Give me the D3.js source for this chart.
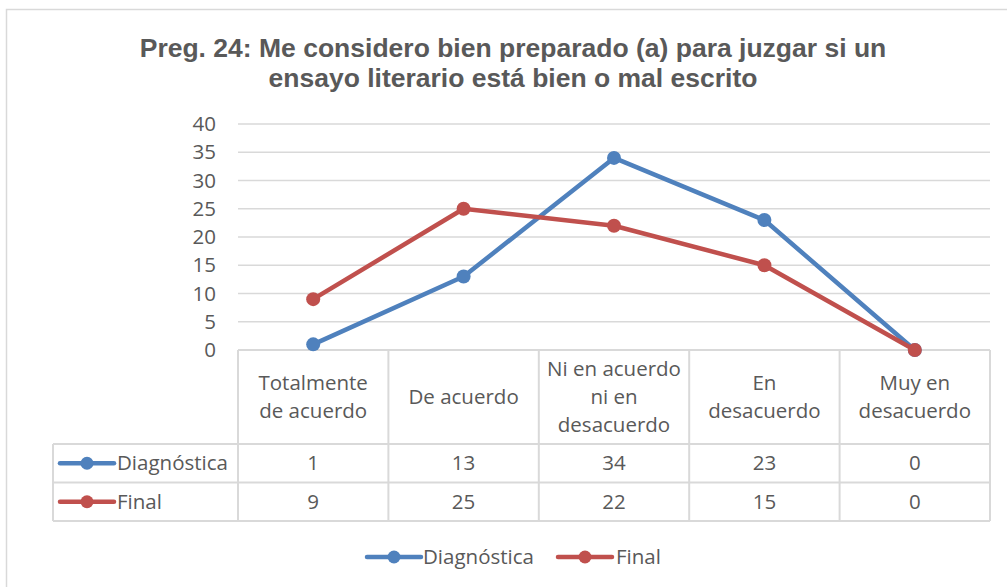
<!DOCTYPE html>
<html>
<head>
<meta charset="utf-8">
<script src="https://cdn.jsdelivr.net/npm/d3@7"></script>
<style>
    body { margin: 0; background: #fff; }
    svg text { font-family: "Open Sans", Lato, sans-serif; fill: #595959; }
</style>
</head>
<body>
<svg id="chart" width="1007" height="587"></svg>
<script>
const categories = [
    ["Totalmente", "de acuerdo"],
    ["De acuerdo"],
    ["Ni en acuerdo", "ni en", "desacuerdo"],
    ["En", "desacuerdo"],
    ["Muy en", "desacuerdo"]
];
const diagnostica = [1, 13, 34, 23, 0];
const final = [9, 25, 22, 15, 0];
const yTicks = [0, 5, 10, 15, 20, 25, 30, 35, 40];
const titleLines = [
    "Preg. 24: Me considero bien preparado (a) para juzgar si un",
    "ensayo literario está bien o mal escrito"
];

const series = [
    { name: "Diagnóstica", values: diagnostica, color: "#4F81BD" },
    { name: "Final", values: final, color: "#C0504D" }
];

const svg = d3.select("#chart"),
    gridColor = "#d9d9d9",
    fontSize = "20.5px",
    plotLeft = 238,
    plotRight = 990,
    plotTop = 124,
    plotBottom = 350,
    headerBottom = 444,
    rowHeight = 38.5,
    tableLeft = 53;

// outer chart border
svg.append("rect")
    .attr("x", 6.5).attr("y", 9.5)
    .attr("width", 1010).attr("height", 600)
    .attr("fill", "none")
    .attr("stroke", gridColor)
    .attr("stroke-width", 1.5);

// title
svg.append("g")
    .selectAll("text")
    .data(titleLines)
    .enter()
    .append("text")
    .attr("x", 513)
    .attr("y", function (d, i) { return 57 + i * 30; })
    .attr("text-anchor", "middle")
    .style("font-family", "'Liberation Sans', Arial, sans-serif")
    .style("font-weight", "bold")
    .style("font-size", "26.5px")
    .text(function (d) { return d; });

const x = d3.scaleBand()
    .domain(d3.range(categories.length))
    .range([plotLeft, plotRight]);

const y = d3.scaleLinear()
    .domain([0, 40])
    .range([plotBottom, plotTop]);

// gridlines
svg.append("g")
    .selectAll("line")
    .data(yTicks.filter(function (t) { return t > 0; }))
    .enter()
    .append("line")
    .attr("x1", plotLeft).attr("x2", plotRight)
    .attr("y1", function (d) { return y(d); })
    .attr("y2", function (d) { return y(d); })
    .attr("stroke", gridColor)
    .attr("stroke-width", 1.5);

// y axis labels
const yAxis = d3.axisLeft(y).tickValues(yTicks).tickSize(0).tickPadding(22);
const yAxisG = svg.append("g")
    .attr("transform", "translate(" + plotLeft + ",0)")
    .call(yAxis);
yAxisG.select(".domain").remove();
yAxisG.selectAll("text")
    .style("font-family", "'Open Sans', Lato, sans-serif")
    .style("font-size", fontSize)
    .attr("fill", "#595959");

// data table grid
const table = svg.append("g")
    .attr("stroke", gridColor)
    .attr("stroke-width", 2);

const rowLines = [plotBottom, headerBottom, headerBottom + rowHeight, headerBottom + 2 * rowHeight];
table.selectAll("line.h")
    .data(rowLines)
    .enter()
    .append("line")
    .attr("class", "h")
    .attr("x1", function (d, i) { return i === 0 ? plotLeft : tableLeft; })
    .attr("x2", plotRight)
    .attr("y1", function (d) { return d; })
    .attr("y2", function (d) { return d; });

const colLines = d3.range(categories.length + 1).map(function (i) {
    return plotLeft + i * x.step();
});
table.selectAll("line.v")
    .data(colLines)
    .enter()
    .append("line")
    .attr("class", "v")
    .attr("x1", function (d) { return d; })
    .attr("x2", function (d) { return d; })
    .attr("y1", plotBottom)
    .attr("y2", rowLines[3]);

table.append("line")
    .attr("x1", tableLeft).attr("x2", tableLeft)
    .attr("y1", headerBottom).attr("y2", rowLines[3]);

// category header text
const headers = svg.append("g")
    .selectAll("text")
    .data(categories)
    .enter()
    .append("text")
    .attr("text-anchor", "middle")
    .style("font-size", fontSize)
    .attr("x", function (d, i) { return x(i) + x.bandwidth() / 2; })
    .attr("y", function (d) {
        return (plotBottom + headerBottom) / 2 - (d.length - 1) * 14 + 7;
    });

headers.selectAll("tspan")
    .data(function (d) { return d; })
    .enter()
    .append("tspan")
    .attr("x", function () { return d3.select(this.parentNode).attr("x"); })
    .attr("dy", function (d, i) { return i === 0 ? 0 : 28; })
    .text(function (d) { return d; });

// legend key helper
function drawKey(g, cx, color) {
    g.append("line")
        .attr("x1", cx - 27).attr("x2", cx + 27)
        .attr("y1", 0).attr("y2", 0)
        .attr("stroke", color)
        .attr("stroke-width", 4.5)
        .attr("stroke-linecap", "round");
    g.append("circle")
        .attr("cx", cx).attr("cy", 0)
        .attr("r", 6.5)
        .attr("fill", color);
}

// table rows: key, name, values
series.forEach(function (s, si) {
    const rowMid = headerBottom + rowHeight * si + rowHeight / 2;
    const row = svg.append("g").attr("transform", "translate(0," + rowMid + ")");
    drawKey(row, 87, s.color);
    row.append("text")
        .attr("x", 117)
        .attr("y", 7)
        .style("font-size", fontSize)
        .text(s.name);
    row.selectAll("text.val")
        .data(s.values)
        .enter()
        .append("text")
        .attr("class", "val")
        .attr("text-anchor", "middle")
        .attr("x", function (d, i) { return x(i) + x.bandwidth() / 2; })
        .attr("y", 7)
        .style("font-size", fontSize)
        .text(function (d) { return d; });
});

// lines and markers
const line = d3.line()
    .x(function (d, i) { return x(i) + x.bandwidth() / 2; })
    .y(function (d) { return y(d); });

series.forEach(function (s) {
    const g = svg.append("g");
    g.append("path")
        .datum(s.values)
        .attr("d", line)
        .attr("fill", "none")
        .attr("stroke", s.color)
        .attr("stroke-width", 4.5)
        .attr("stroke-linejoin", "round");
    g.selectAll("circle")
        .data(s.values)
        .enter()
        .append("circle")
        .attr("cx", function (d, i) { return x(i) + x.bandwidth() / 2; })
        .attr("cy", function (d) { return y(d); })
        .attr("r", 7)
        .attr("fill", s.color);
});

// bottom legend
const legend = svg.append("g").attr("transform", "translate(0,557)");
const legendItems = [
    { s: series[0], keyX: 394, textX: 423 },
    { s: series[1], keyX: 585, textX: 616 }
];
legendItems.forEach(function (item) {
    drawKey(legend, item.keyX, item.s.color);
    legend.append("text")
        .attr("x", item.textX)
        .attr("y", 7)
        .style("font-size", fontSize)
        .text(item.s.name);
});
</script>
</body>
</html>
